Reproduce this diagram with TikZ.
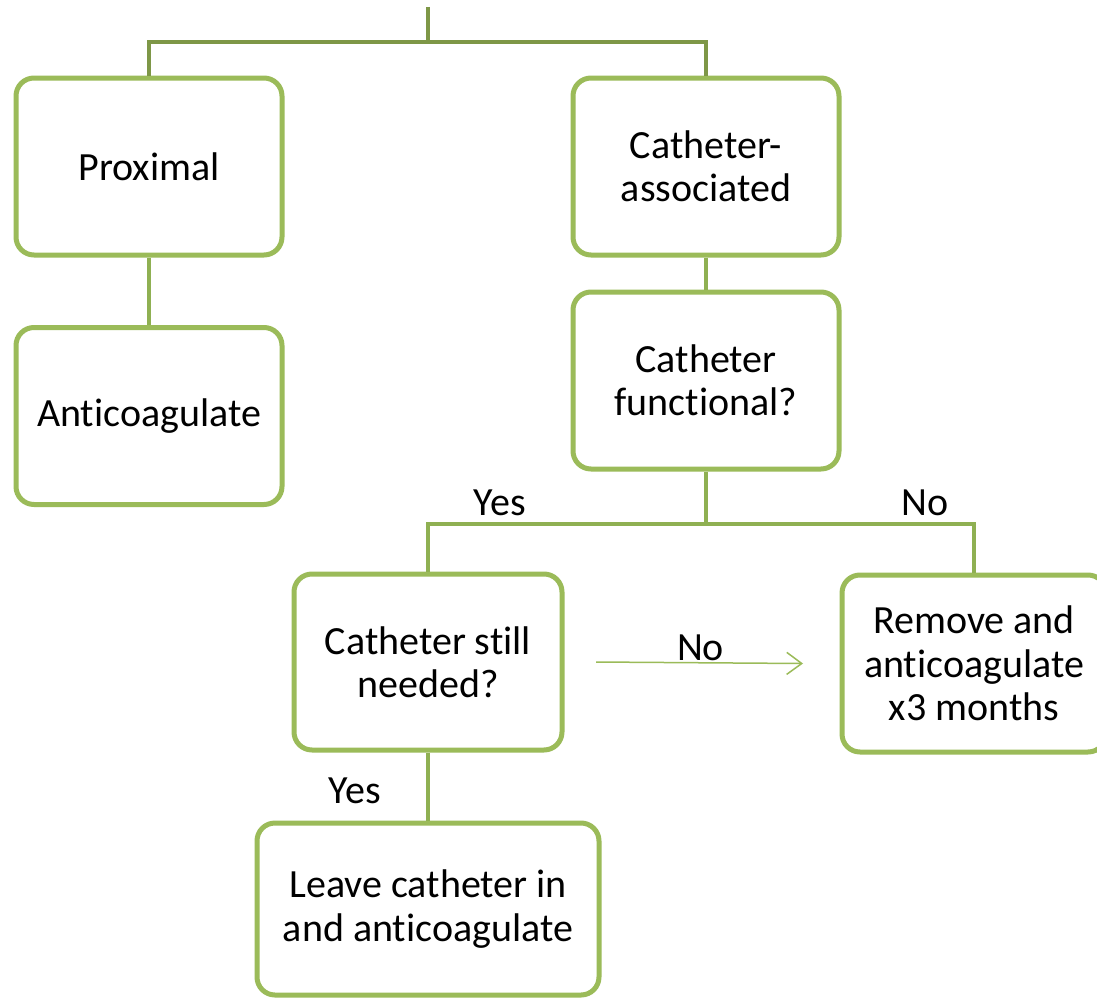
\documentclass[tikz,border=0pt]{standalone}
\usepackage{fontspec}
\setmainfont{Carlito}[RawFeature={-liga;-clig;-calt;-dlig}]
\usetikzlibrary{arrows.meta, calc, positioning}
\definecolor{boxgreen}{RGB}{155,187,89}
\definecolor{topgreen}{RGB}{126,151,71}
\definecolor{subgreen}{RGB}{143,176,82}
\tikzset{>=latex,
  box/.style={draw=boxgreen, line width=5pt, rounded corners=18pt, fill=white,
    align=center, font=\fontsize{40}{43.5}\selectfont, inner sep=4pt},
  toplink/.style={draw=topgreen, line width=4.5pt},
  sublink/.style={draw=subgreen, line width=4.5pt},
  thinarrow/.style={draw=boxgreen, line width=1.5pt, -{Straight Barb[length=15pt, width=22pt, line width=1.5pt]}},
  lbl/.style={font=\fontsize{40}{43.5}\selectfont, inner sep=0pt}
}

\begin{document}
\begin{tikzpicture}[x=1pt, y=-1pt]
\useasboundingbox[fill=white] (0,0) rectangle (1097,998);

\coordinate (rootend) at (428,7);
\coordinate (rootsplit) at (428,42);
\coordinate (funcsplit) at (706,524);

\node[box, minimum width=266pt, minimum height=177pt] (prox) at (149,166.5) {Proximal};
\node[box, minimum width=266pt, minimum height=177pt] (anti) at (149,416) {Anticoagulate};
\node[box, minimum width=266pt, minimum height=177pt] (cath) at (706,166.5) {Catheter-\\associated};
\node[box, minimum width=266pt, minimum height=177pt] (func) at (706,380.5) {Catheter\\functional?};
\node[box, minimum width=268pt, minimum height=176pt] (still) at (428,662) {Catheter still\\needed?};
\node[box, minimum width=264pt, minimum height=177pt] (remove) at (974,663.5) {Remove and\\anticoagulate\\x3 months};
\node[box, minimum width=342pt, minimum height=172pt] (leave) at (428,909) {Leave catheter in\\and anticoagulate};

% tree
\draw[toplink] (rootend) -- (rootsplit);
\draw[toplink] (prox.north) |- (rootsplit) -| (cath.north);
\draw[sublink] (prox.south) -- (anti.north);
\draw[sublink] (cath.south) -- (func.north);
\draw[sublink] (func.south) -- (funcsplit);
\draw[sublink] (still.north) |- (funcsplit) -| (remove.north);
\draw[sublink] (still.south) -- (leave.north);

\draw[thinarrow] ([xshift=31.5pt]still.east) -- ([xshift=-36.5pt]remove.west)
  node[lbl, pos=0.5, anchor=base, xshift=1pt, yshift=2pt] (nomid) {No};

\node[lbl, anchor=base] (yestop) at (500,515) {Yes};
\node[lbl, anchor=base] (notop) at (925,515) {No};
\node[lbl, anchor=base] (yesbot) at (355,803) {Yes};
\end{tikzpicture}
\end{document}
